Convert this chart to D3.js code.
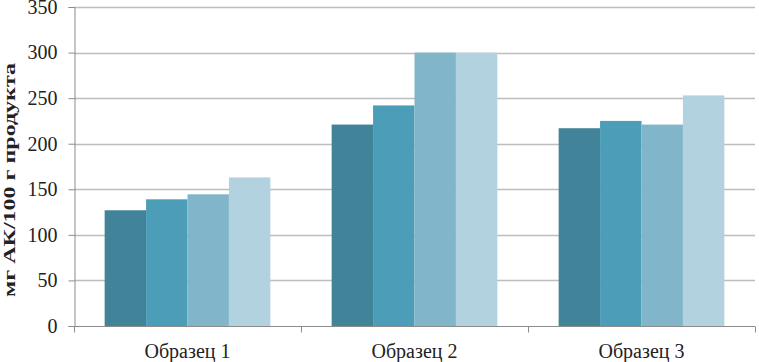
<!DOCTYPE html>
<html><head><meta charset="utf-8">
<script src="https://cdn.jsdelivr.net/npm/d3@7"></script>
<style>body{margin:0;background:#fff}svg{display:block}</style>
</head><body>
<script>
const categories = ["Образец 1", "Образец 2", "Образец 3"];
const seriesNames = ["s1", "s2", "s3", "s4"];
const s1 = [127, 221, 217];
const s2 = [139, 242, 225];
const s3 = [144.5, 300, 221];
const s4 = [163, 300, 253];
const yTicks = [0, 50, 100, 150, 200, 250, 300, 350];
const yLabel = "мг АК/100 г продукта";
const colors = ["#41849a", "#4b9db8", "#80b5ca", "#b1d2de"];

const series = [s1, s2, s3, s4];
const W = 759, H = 362;
const m = {left: 74, right: 4, top: 7, bottom: 36};
const svg = d3.select("body").append("svg").attr("width", W).attr("height", H);
const x0 = d3.scaleBand().domain(categories).range([m.left, W - m.right]).paddingInner(0.27).paddingOuter(0.135);
const x1 = d3.scaleBand().domain(seriesNames).range([0, x0.bandwidth()]);
const y = d3.scaleLinear().domain([0, 350]).range([H - m.bottom, m.top]);
const font = "'Liberation Serif','Times New Roman',serif";

// gridlines
svg.append("g").selectAll("line").data(yTicks.filter(d => d > 0)).join("line")
  .attr("x1", m.left).attr("x2", W - m.right)
  .attr("y1", d => Math.round(y(d)) + 0.5).attr("y2", d => Math.round(y(d)) + 0.5)
  .attr("stroke", "#bdbdbd").attr("stroke-width", 1.5);

// bars
categories.forEach((c, i) => {
  svg.append("g").selectAll("rect").data(series.map((s, j) => ({k: seriesNames[j], v: s[i], j}))).join("rect")
    .attr("x", d => x0(c) + x1(d.k)).attr("width", x1.bandwidth())
    .attr("y", d => y(d.v)).attr("height", d => y(0) - y(d.v))
    .attr("fill", d => colors[d.j]);
});

// y axis
const ya = svg.append("g").attr("transform", `translate(${m.left + 0.5},0)`)
  .call(d3.axisLeft(y).tickValues(yTicks).tickSize(6).tickPadding(11));
ya.select(".domain").attr("stroke", "#8c8c8c");
ya.selectAll(".tick line").attr("stroke", "#8c8c8c");
ya.selectAll("text").attr("font-family", font).attr("font-size", 20).attr("fill", "#222");

// x axis
const xa = svg.append("g").attr("transform", `translate(0,${Math.round(y(0)) + 0.5})`);
xa.append("line").attr("x1", m.left).attr("x2", W - m.right).attr("stroke", "#8c8c8c");
const edges = d3.range(categories.length + 1).map(i => m.left + i * (W - m.right - m.left) / categories.length);
xa.selectAll("line.t").data(edges).join("line").attr("class", "t")
  .attr("x1", d => Math.round(d) + 0.5).attr("x2", d => Math.round(d) + 0.5).attr("y1", 0).attr("y2", 6)
  .attr("stroke", "#8c8c8c");
xa.selectAll("text").data(categories).join("text")
  .attr("x", d => x0(d) + x0.bandwidth() / 2).attr("y", 31)
  .attr("text-anchor", "middle").attr("font-family", font).attr("font-size", 20).attr("fill", "#222")
  .text(d => d);

// y label
svg.append("text").attr("transform", `translate(15,180) rotate(-90)`)
  .attr("text-anchor", "middle").attr("font-family", font).attr("font-size", 17)
  .attr("textLength", 234).attr("lengthAdjust", "spacingAndGlyphs")
  .attr("font-weight", "bold").attr("fill", "#222").text(yLabel);
</script>
</body></html>
